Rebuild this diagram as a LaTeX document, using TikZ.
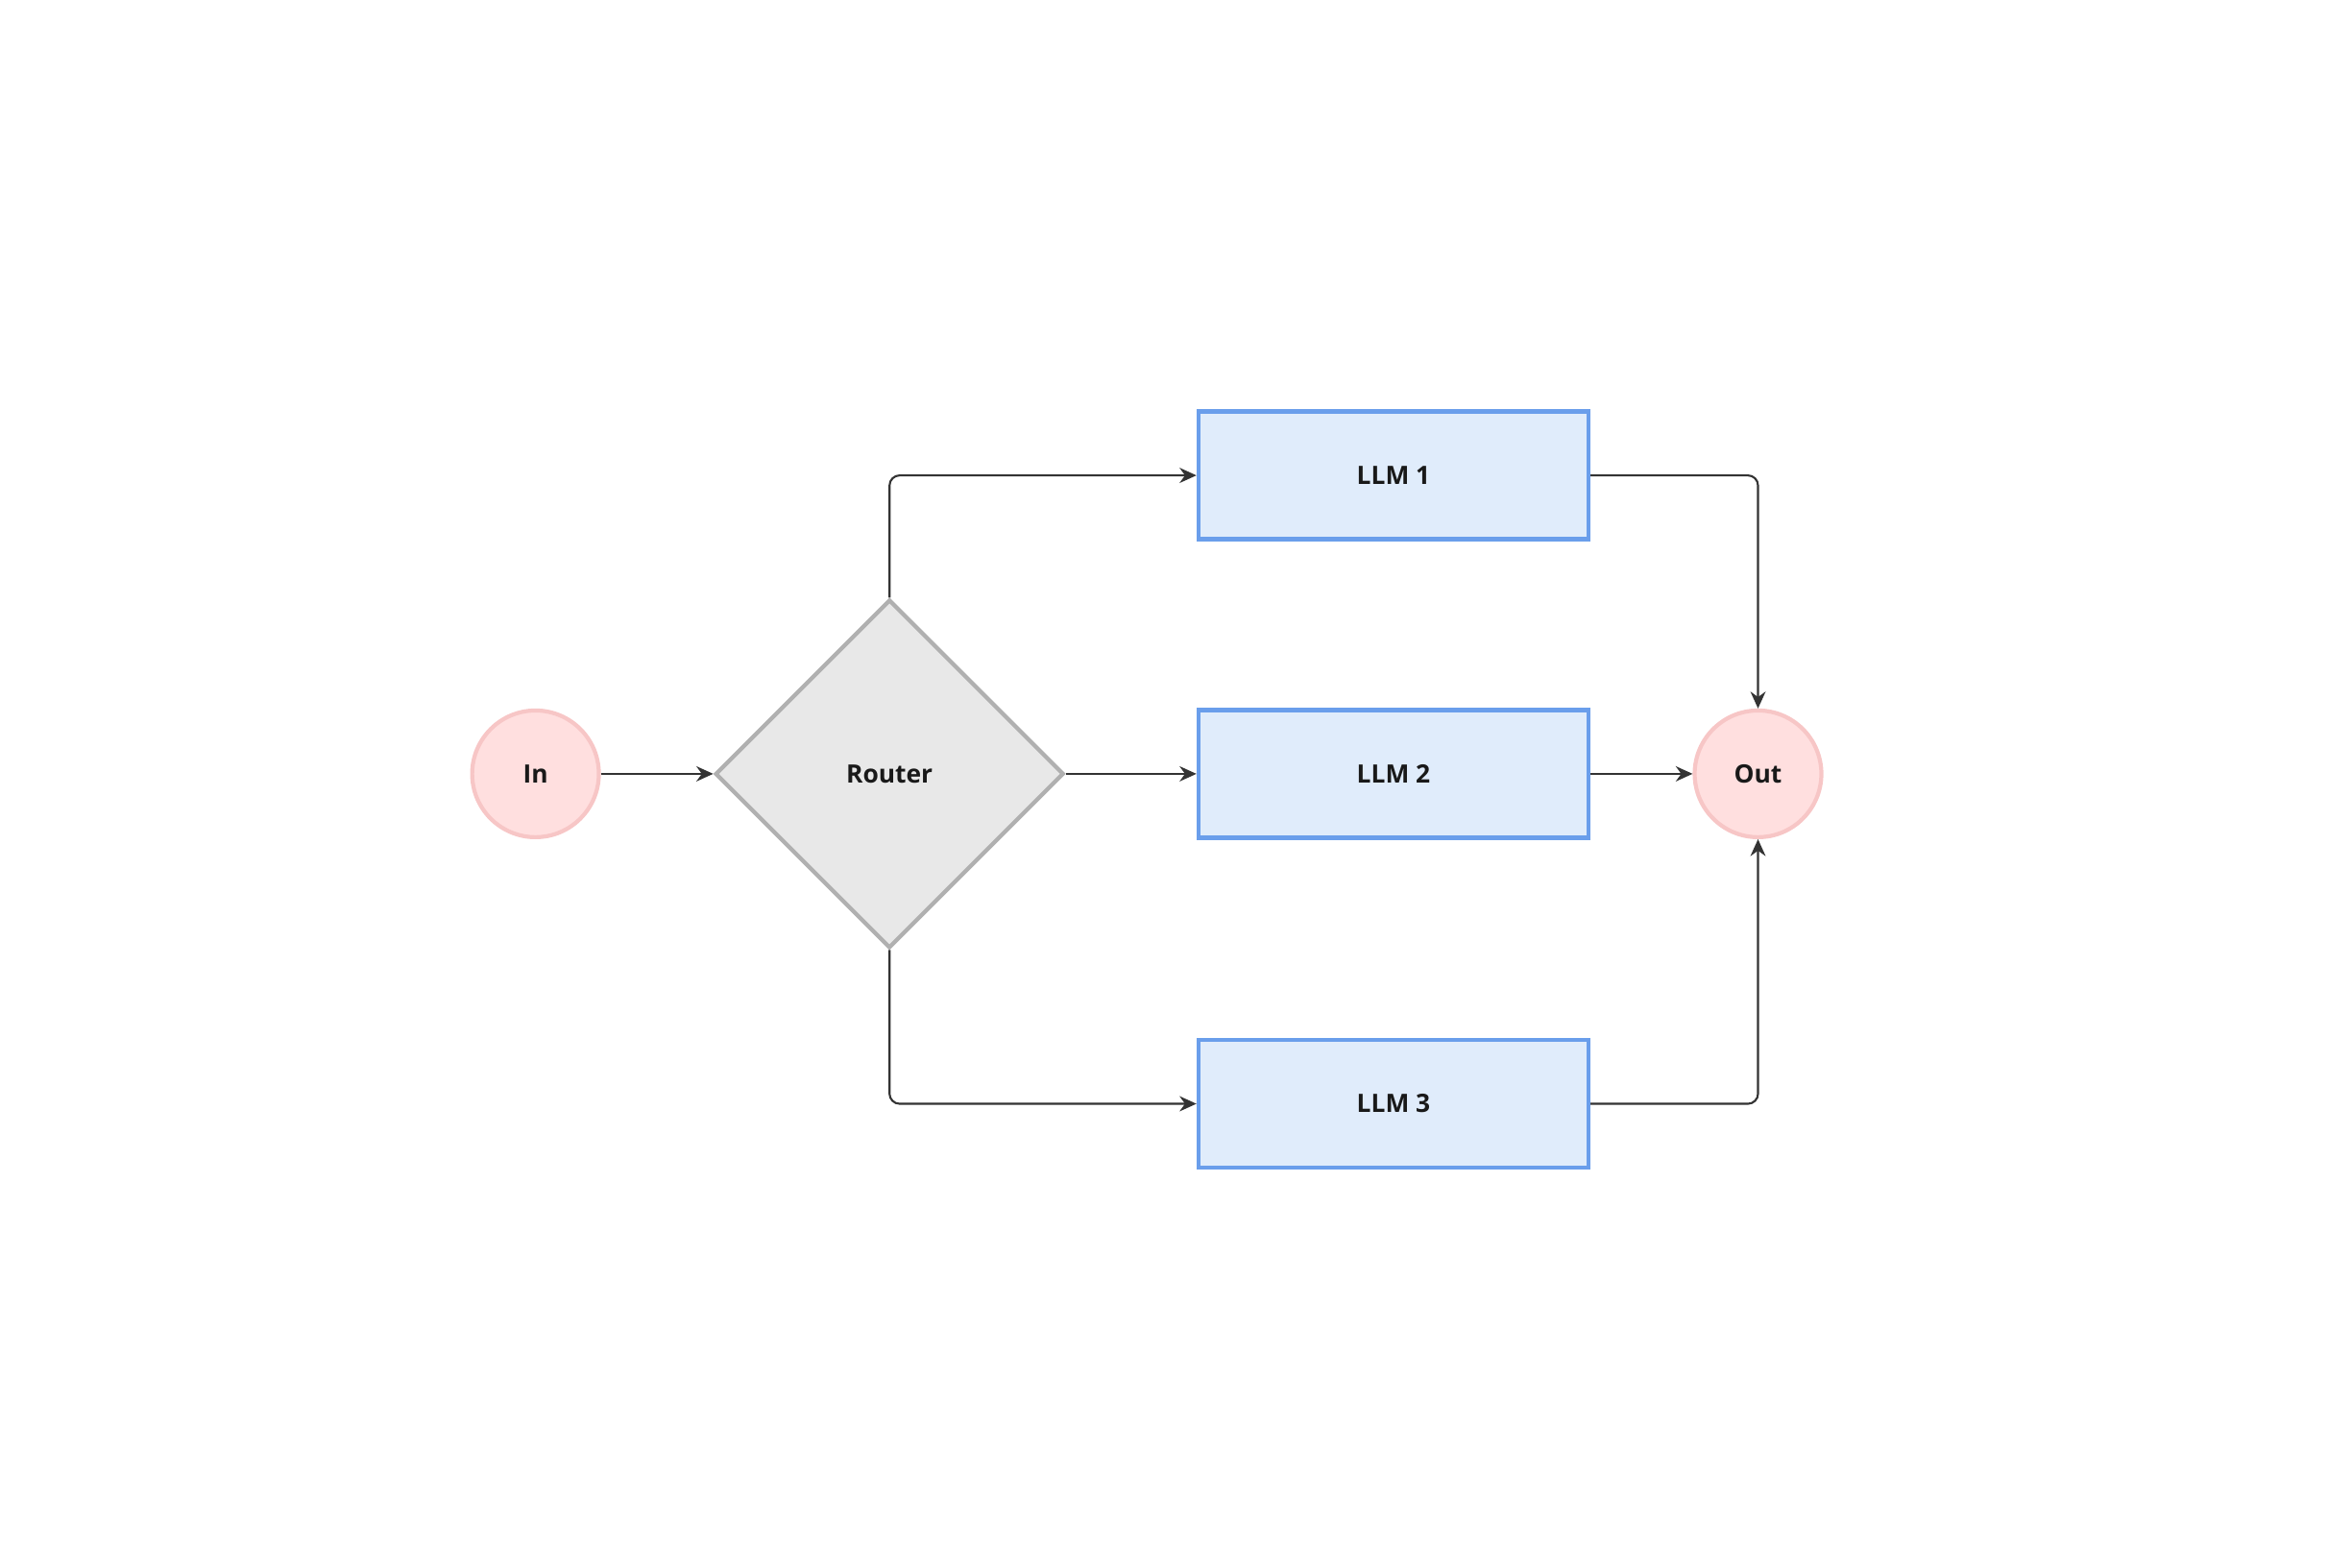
\documentclass[tikz,border=0pt]{standalone}
\usepackage{fontspec}
\setmainfont{Open Sans}
\usetikzlibrary{shapes.geometric,arrows.meta}
\definecolor{termfill}{HTML}{FFDFDF}
\definecolor{termline}{HTML}{F7C6C6}
\definecolor{llmfill}{HTML}{E0ECFB}
\definecolor{llmline}{HTML}{6A9EEB}
\definecolor{routefill}{HTML}{E8E8E8}
\definecolor{routeline}{HTML}{B0B0B0}
\definecolor{wire}{HTML}{333333}
\tikzset{
  lbl/.style={font=\fontsize{7.5}{9}\selectfont\bfseries, text=black!90},
  term/.style={lbl, circle, draw=termline, fill=termfill, line width=1.2pt, minimum size=1.32cm, inner sep=0pt},
  llm/.style={lbl, rectangle, draw=llmline, fill=llmfill, line width=1.3pt, minimum width=4.06cm, minimum height=1.33cm, inner sep=0pt},
  router/.style={lbl, diamond, draw=routeline, fill=routefill, line width=1.2pt, minimum size=3.63cm, inner sep=0pt},
  link/.style={-{Stealth[length=5pt,width=4.5pt]}, draw=wire, line width=0.6pt, rounded corners=3pt}
}
\begin{document}
\begin{tikzpicture}[x=0.015619cm, y=-0.015619cm]
  \useasboundingbox (0,0) rectangle (1568,1045);

  % nodes
  \node[term] (in) at (357,516) {In};
  \node[router] (route) at (593,516) {Router};
  \node[llm] (llm1) at (929,317) {LLM 1};
  \node[llm] (llm2) at (929,516) {LLM 2};
  \node[llm] (llm3) at (929,736) {LLM 3};
  \node[term] (out) at (1172,516) {Out};

  % connectors
  \draw[link] (in) -- (route);
  \draw[link] (route.north) |- (llm1.west);
  \draw[link] (route) -- (llm2);
  \draw[link] (route.south) |- (llm3.west);
  \draw[link] (llm1.east) -| (out.north);
  \draw[link] (llm2) -- (out);
  \draw[link] (llm3.east) -| (out.south);
\end{tikzpicture}
\end{document}
